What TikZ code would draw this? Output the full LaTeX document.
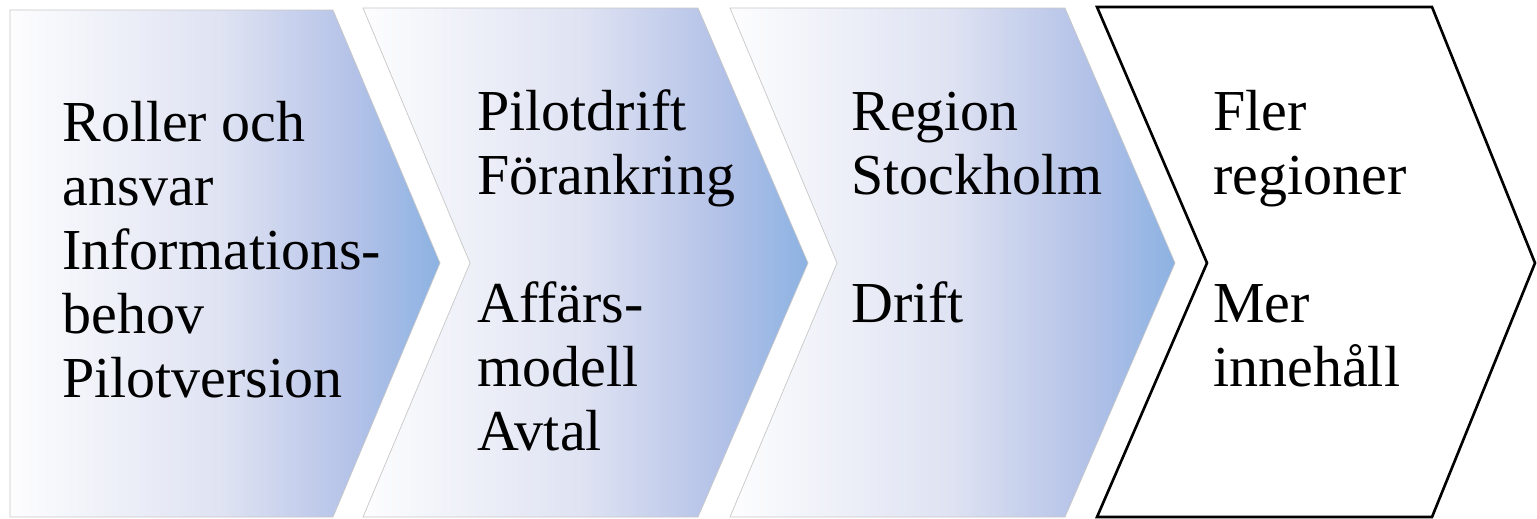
\documentclass[tikz,border=0pt]{standalone}
\usepackage{fontspec}
\setmainfont{Liberation Serif}
\usetikzlibrary{positioning}

\definecolor{chevwhite}{RGB}{253,253,254}
\definecolor{chevmid}{RGB}{222,226,242}
\definecolor{chevlav}{RGB}{180,194,232}
\definecolor{chevblue}{RGB}{140,178,226}
\pgfdeclarehorizontalshading{chevshade}{100bp}{color(0bp)=(chevwhite); color(25bp)=(chevwhite);
  color(50bp)=(chevmid); color(65bp)=(chevlav); color(75bp)=(chevblue); color(100bp)=(chevblue)}
\newcommand{\stepfont}{\fontsize{33}{36.4}\selectfont}

\begin{document}
\begin{tikzpicture}
[x=0.02cm, y=-0.02cm,
chevfill/.style={shade, shading=chevshade, draw=black!22, line width=0.4pt},
chevline/.style={draw=black, line width=1.5pt, fill=white},
steptext/.style={anchor=base west, align=left, inner sep=0pt, font=\stepfont}]

\useasboundingbox (0,0) rectangle (1537,518);

\path[chevfill] (10,10) -- (333,10) -- (440,263) -- (333,517) -- (10,517) -- cycle;
\foreach \x in {363,730}
	\path[chevfill] (\x,8) -- ++(335,0) -- ++(110,255) -- ++(-110,254) -- ++(-335,0) -- ++(107,-254) -- cycle;
\path[chevline] (1097,7) -- (1432,7) -- (1535,263) -- (1432,517) -- (1097,517) -- (1207,263) -- cycle;

% base anchor sits on the last line
\node[steptext] (roller) at (62,397) {Roller och\\ansvar\\Informations-\\behov\\Pilotversion};
\node[steptext] (pilot) at (477,450) {Pilotdrift\\Förankring\\[36.4pt]Affärs-\\modell\\Avtal};
\node[steptext] (region) at (851,322) {Region\\Stockholm\\[36.4pt]Drift};
\node[steptext] (fler) at (1213,386) {Fler\\regioner\\[36.4pt]Mer\\innehåll};

\end{tikzpicture}
\end{document}
